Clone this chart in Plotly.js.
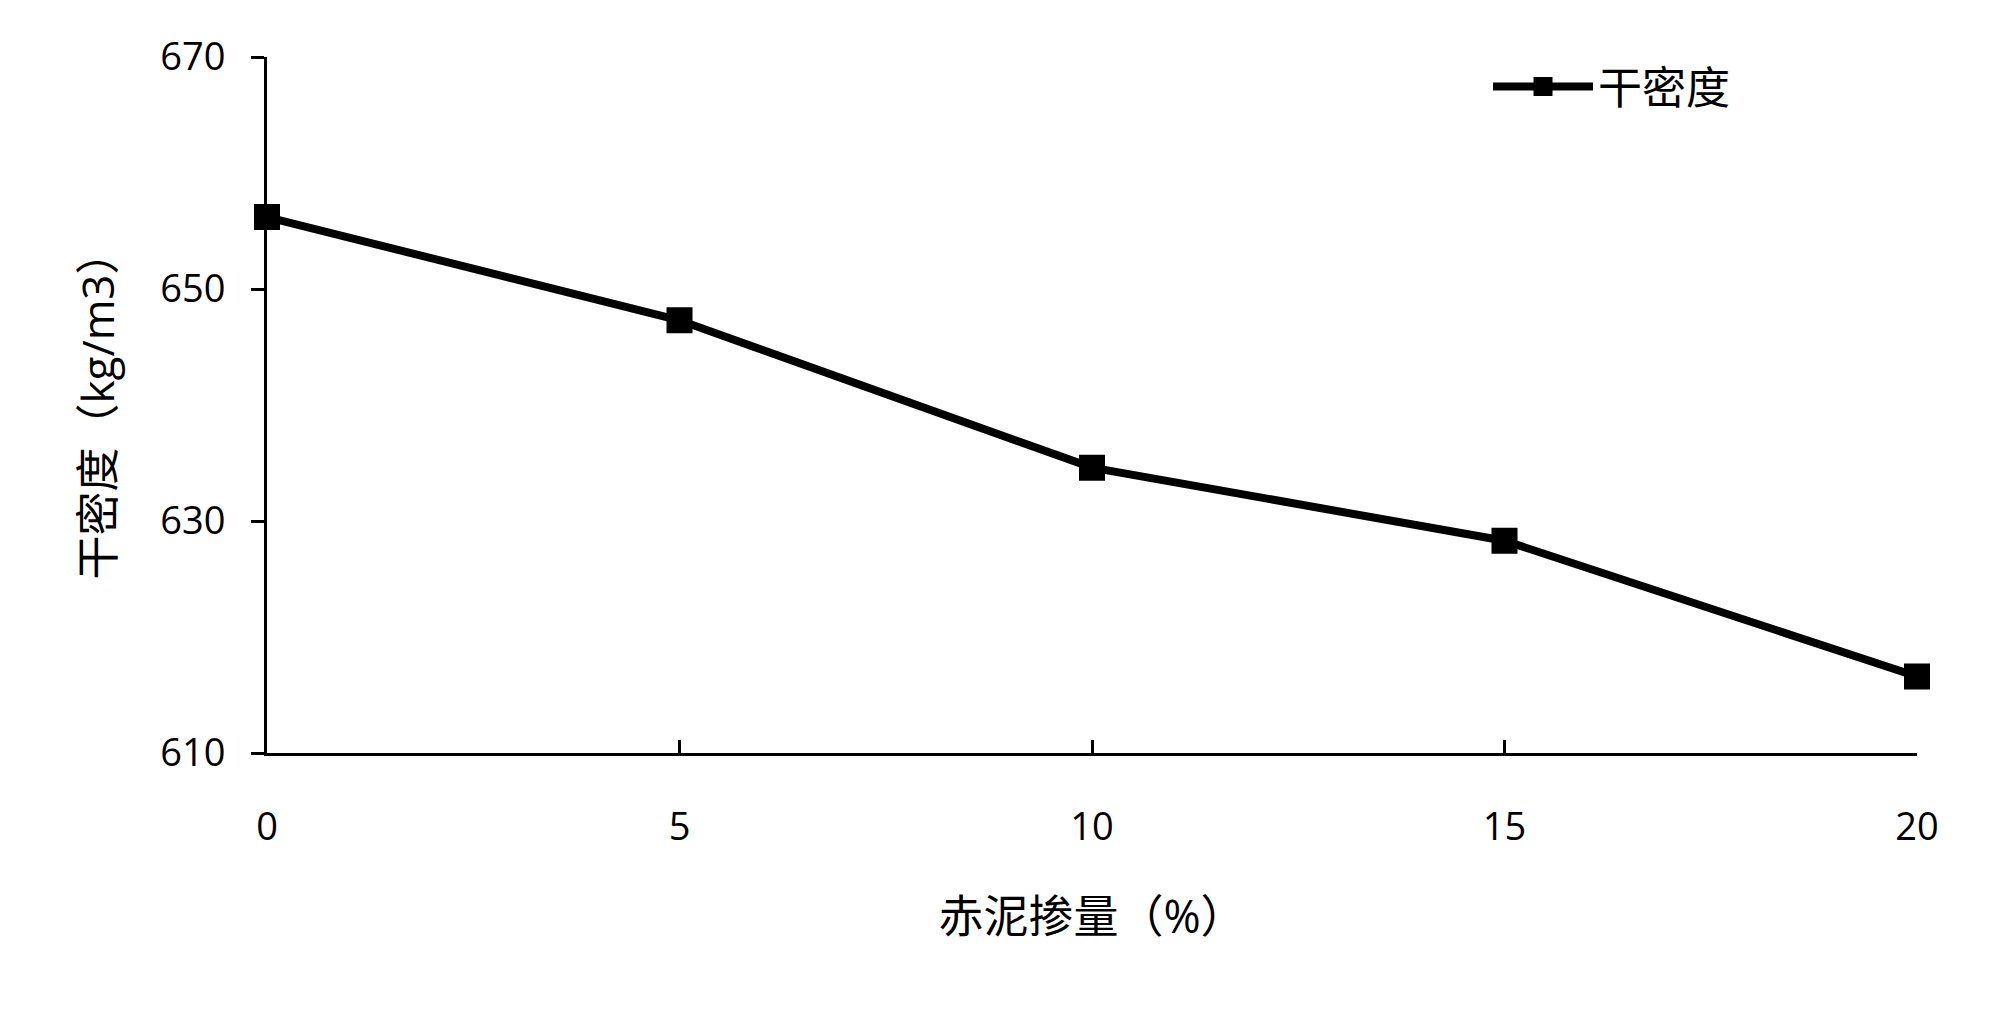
<!DOCTYPE html>
<html>
<head>
<meta charset="utf-8">
<script src="https://cdn.plot.ly/plotly-3.0.1.min.js"></script>
<style>
  html, body { margin: 0; padding: 0; background: #fff; }
  #chart { width: 1999px; height: 1016px; }
</style>
</head>
<body>
<div id="chart"></div>
<script>
// 赤泥掺量 (%) 与 干密度 (kg/m3)
const dosage = [0, 5, 10, 15, 20];
const dryDensity = [656.2, 647.3, 634.6, 628.3, 616.6];
const yTicks = [610, 630, 650, 670];
const xTicks = [0, 5, 10, 15, 20];

const fontFamily = '"Open Sans", "Noto Sans CJK SC", sans-serif';

const trace = {
    x: dosage,
    y: dryDensity,
    name: '干密度',
    mode: 'lines+markers',
    type: 'scatter',
    cliponaxis: false,
    line: { color: '#000', width: 8 },
    marker: { symbol: 'square', size: 23, color: '#000', line: { color: '#000', width: 3 } }
};

const layout = {
    width: 1999,
    height: 1016,
    paper_bgcolor: '#fff',
    plot_bgcolor: '#fff',
    font: { family: fontFamily, size: 38, color: '#000' },
    margin: { l: 267, r: 82, t: 57, b: 263 },
    xaxis: {
        range: [0, 20],
        tickvals: xTicks,
        ticktext: xTicks.map(String),
        ticks: 'inside',
        ticklen: 13,
        tickwidth: 3,
        tickcolor: '#000',
        showline: true,
        linewidth: 3,
        linecolor: '#000',
        showgrid: false,
        zeroline: false,
        ticklabelstandoff: 38,
        title: { text: '赤泥掺量（%）', font: { size: 45 }, standoff: 52 }
    },
    yaxis: {
        range: [610, 670],
        tickvals: yTicks,
        ticks: 'outside',
        ticklen: 13,
        tickwidth: 3,
        tickcolor: '#000',
        showline: true,
        linewidth: 3,
        linecolor: '#000',
        showgrid: false,
        zeroline: false,
        ticklabelstandoff: 18,
        title: { text: '干密度（kg/m3）', font: { size: 44 }, standoff: 32 }
    },
    showlegend: true,
    legend: {
        x: 0.74,
        y: 0.957,
        xanchor: 'left',
        yanchor: 'middle',
        bgcolor: 'rgba(0,0,0,0)',
        font: { size: 44 },
        itemwidth: 100
    }
};

Plotly.newPlot('chart', [trace], layout, { displayModeBar: false, staticPlot: true });
</script>
</body>
</html>
